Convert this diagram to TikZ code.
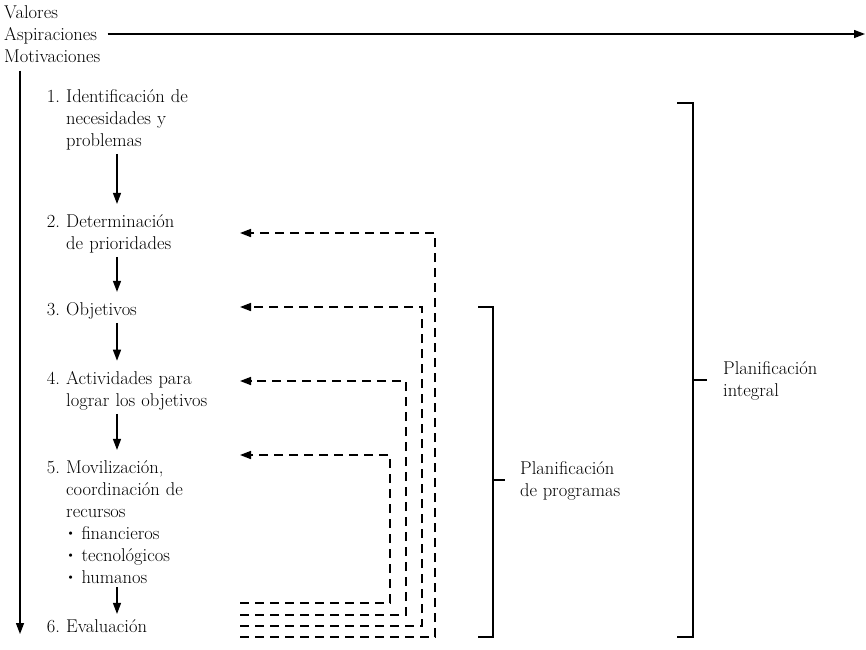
\documentclass[tikz,border=0pt]{standalone}
\usepackage{tikz}
\usetikzlibrary{arrows.meta,positioning}
\tikzset{>={Triangle[length=11pt,width=8pt]}}
\newcommand{\dotitem}{\raisebox{0.12em}{\fontsize{12}{12}\selectfont\textbullet}\ }

\begin{document}
\begin{tikzpicture}[x=1pt,y=-1pt,
    every node/.style={font=\fontsize{18.5}{22}\selectfont, inner sep=0pt, align=left},
    stage/.style={anchor=base west, text width=170pt},
    flow/.style={->, line width=1.3pt},
    fb/.style={->, line width=1.6pt, dash pattern=on 9pt off 6pt},
    brk/.style={line width=1.3pt}]
    \useasboundingbox (0,0) rectangle (866,649);
    % columns for the arrows
    \coordinate (lx) at (20,0);
    \coordinate (ax) at (117,0);
    \coordinate (vend) at (20,634);
    \coordinate (hend) at (865,34);
    % steps
    \node[anchor=west] at (4,34) (vam) {Valores\\Aspiraciones\\Motivaciones};
    \node[stage] at (66,102) (s1) {\llap{1.\ }Identificación de\\necesidades y\\problemas};
    \node[stage] at (66,227) (s2) {\llap{2.\ }Determinación\\de prioridades};
    \node[stage] at (66,315) (s3) {\llap{3.\ }Objetivos};
    \node[stage] at (66,384) (s4) {\llap{4.\ }Actividades para\\lograr los objetivos};
    \node[stage] at (66,473) (s5) {\llap{5.\ }Movilización,\\coordinación de\\recursos\\\dotitem financieros\\\dotitem tecnológicos\\\dotitem humanos};
    \node[stage] at (66,632) (s6) {\llap{6.\ }Evaluación};
    \draw[flow, shorten <=7pt] (vam.east) -- (hend);
    \draw[flow, shorten <=8pt] (vam.south -| lx) -- (vend);
    \foreach \a/\b/\s in {s1/s2/10pt, s2/s3/10pt, s3/s4/10pt, s4/s5/10pt, s5/s6/5pt}
        \draw[flow, shorten <=4pt, shorten >=\s] (\a.south -| ax) -- (\b.north -| ax);
    % feedback
    \coordinate (b2) at (240,637); \coordinate (c2) at (435,233); \coordinate (t2) at (240,233);
    \coordinate (b3) at (240,626); \coordinate (c3) at (422,307); \coordinate (t3) at (240,307);
    \coordinate (b4) at (240,615); \coordinate (c4) at (406,381); \coordinate (t4) at (240,381);
    \coordinate (b5) at (240,603); \coordinate (c5) at (390,455); \coordinate (t5) at (240,455);
    \foreach \k in {2,3,4,5}
        \draw[fb] (b\k) -| (c\k) -- (t\k);
    % brackets
    \draw[brk] (478,307) -| (493,637) -- (478,637);
    \draw[brk] (493,480) -- (505,480);
    \node[anchor=west] at (520,481) (pp) {Planificación\\de programas};
    \draw[brk] (677,103) -| (693,637) -- (677,637);
    \draw[brk] (693,380) -- (707,380);
    \node[anchor=west] at (723,381) (pi) {Planificación\\integral};
\end{tikzpicture}
\end{document}
